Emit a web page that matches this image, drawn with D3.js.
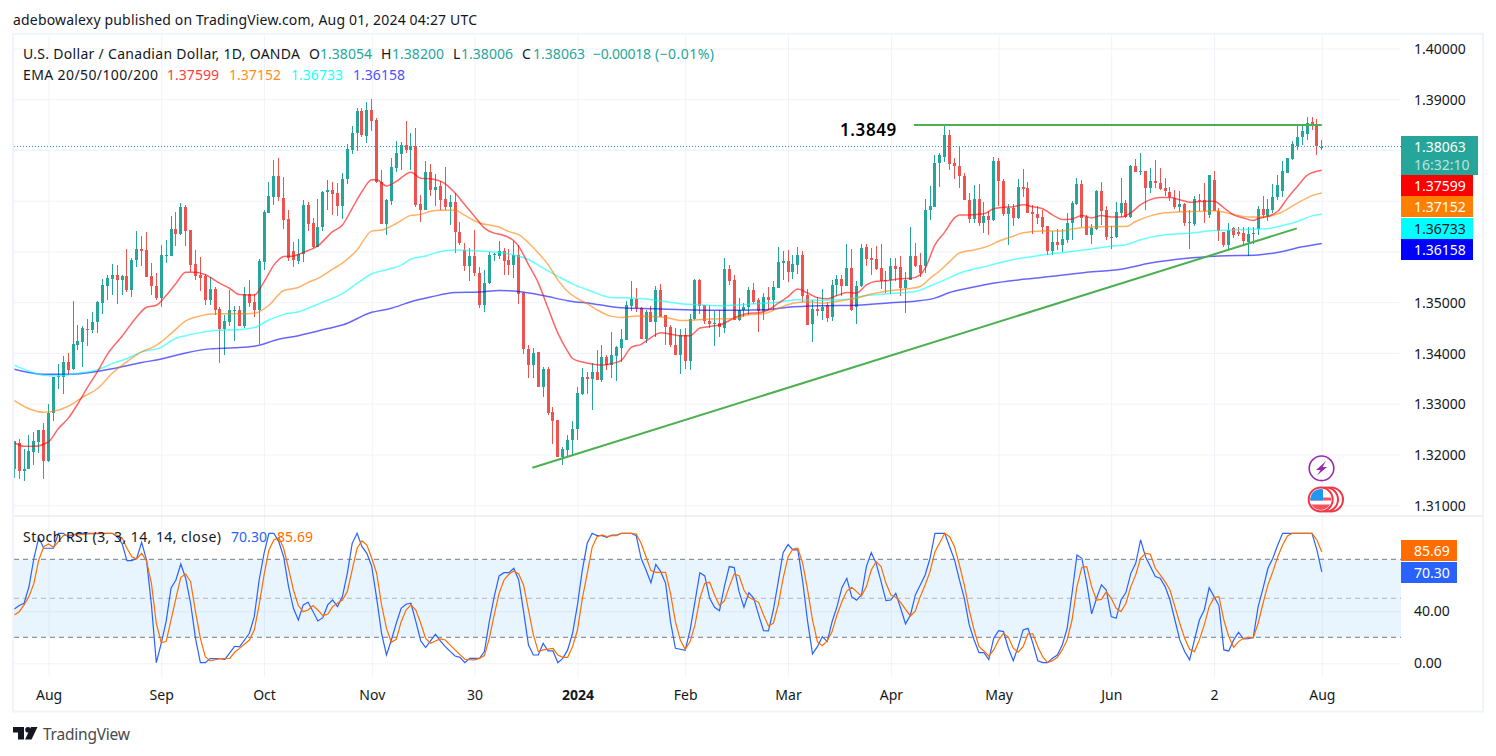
<!DOCTYPE html>
<html>
<head>
<meta charset="utf-8">
<title>USD/CAD</title>
<script src="https://cdn.jsdelivr.net/npm/d3@7"></script>
<style>
body { margin: 0; background: #fff; }
svg { display: block; }
text { font-family: "Noto Sans", sans-serif; fill: #131722; }
</style>
</head>
<body>
<div id="chart"></div>
<script>
// daily candles, [open, high, low, close]
var candles = [
[1.3171,1.3226,1.3154,1.3226],[1.3223,1.3230,1.3151,1.3167],[1.3167,1.3210,1.3148,1.3172],[1.3171,1.3238,1.3171,1.3206],
[1.3205,1.3244,1.3179,1.3226],[1.3224,1.3249,1.3203,1.3249],[1.3249,1.3261,1.3151,1.3188],[1.3188,1.3300,1.3185,1.3281],
[1.3281,1.3352,1.3266,1.3352],[1.3353,1.3378,1.3329,1.3354],[1.3353,1.3394,1.3320,1.3382],[1.3382,1.3399,1.3356,1.3367],
[1.3368,1.3502,1.3366,1.3417],[1.3416,1.3455,1.3406,1.3423],[1.3421,1.3453,1.3373,1.3449],[1.3448,1.3467,1.3414,1.3445],
[1.3445,1.3481,1.3440,1.3461],[1.3460,1.3502,1.3440,1.3501],[1.3499,1.3546,1.3477,1.3534],[1.3532,1.3554,1.3504,1.3548],
[1.3546,1.3575,1.3514,1.3554],[1.3554,1.3573,1.3496,1.3544],[1.3544,1.3554,1.3514,1.3552],[1.3552,1.3604,1.3521,1.3524],
[1.3524,1.3588,1.3511,1.3583],[1.3583,1.3640,1.3570,1.3605],[1.3605,1.3631,1.3572,1.3600],[1.3602,1.3638,1.3550,1.3550],
[1.3552,1.3577,1.3514,1.3531],[1.3532,1.3558,1.3504,1.3508],[1.3508,1.3613,1.3491,1.3593],[1.3592,1.3623,1.3578,1.3593],
[1.3591,1.3669,1.3590,1.3644],[1.3644,1.3677,1.3610,1.3635],[1.3635,1.3695,1.3633,1.3687],[1.3687,1.3691,1.3610,1.3641],
[1.3642,1.3642,1.3560,1.3573],[1.3575,1.3603,1.3544,1.3552],[1.3554,1.3589,1.3523,1.3548],[1.3552,1.3556,1.3494,1.3504],
[1.3504,1.3550,1.3494,1.3526],[1.3526,1.3529,1.3475,1.3485],[1.3486,1.3491,1.3381,1.3447],[1.3447,1.3475,1.3396,1.3463],
[1.3461,1.3524,1.3453,1.3485],[1.3483,1.3492,1.3424,1.3485],[1.3485,1.3492,1.3453,1.3453],[1.3453,1.3529,1.3449,1.3517],
[1.3517,1.3544,1.3491,1.3498],[1.3501,1.3517,1.3471,1.3485],[1.3485,1.3585,1.3417,1.3581],[1.3580,1.3682,1.3564,1.3677],
[1.3676,1.3737,1.3675,1.3710],[1.3708,1.3781,1.3692,1.3749],[1.3749,1.3785,1.3700,1.3707],[1.3705,1.3747,1.3645,1.3661],
[1.3663,1.3681,1.3582,1.3587],[1.3600,1.3619,1.3570,1.3583],[1.3582,1.3625,1.3575,1.3595],[1.3594,1.3702,1.3580,1.3692],
[1.3692,1.3697,1.3640,1.3655],[1.3656,1.3666,1.3607,1.3609],[1.3609,1.3703,1.3609,1.3648],[1.3648,1.3720,1.3640,1.3717],
[1.3717,1.3740,1.3681,1.3722],[1.3722,1.3736,1.3671,1.3714],[1.3715,1.3735,1.3669,1.3690],[1.3690,1.3755,1.3663,1.3743],
[1.3742,1.3812,1.3732,1.3801],[1.3800,1.3847,1.3791,1.3834],[1.3834,1.3883,1.3798,1.3877],[1.3876,1.3882,1.3826,1.3829],
[1.3827,1.3894,1.3814,1.3878],[1.3878,1.3901,1.3837,1.3856],[1.3859,1.3862,1.3735,1.3737],[1.3737,1.3761,1.3655,1.3655],
[1.3655,1.3704,1.3632,1.3701],[1.3699,1.3784,1.3692,1.3767],[1.3765,1.3817,1.3756,1.3793],[1.3791,1.3815,1.3760,1.3810],
[1.3810,1.3857,1.3794,1.3800],[1.3800,1.3834,1.3761,1.3807],[1.3807,1.3844,1.3688,1.3692],[1.3694,1.3712,1.3657,1.3682],
[1.3682,1.3779,1.3681,1.3757],[1.3757,1.3773,1.3710,1.3721],[1.3721,1.3752,1.3690,1.3727],[1.3728,1.3738,1.3682,1.3702],
[1.3704,1.3767,1.3682,1.3688],[1.3687,1.3712,1.3653,1.3698],[1.3698,1.3715,1.3596,1.3638],[1.3638,1.3658,1.3613,1.3617],
[1.3603,1.3616,1.3562,1.3571],[1.3571,1.3606,1.3542,1.3591],[1.3591,1.3642,1.3551,1.3558],[1.3558,1.3569,1.3489,1.3494],
[1.3494,1.3564,1.3481,1.3537],[1.3537,1.3598,1.3536,1.3593],[1.3593,1.3597,1.3582,1.3594],[1.3591,1.3621,1.3585,1.3601],
[1.3601,1.3607,1.3553,1.3582],[1.3584,1.3605,1.3553,1.3574],[1.3574,1.3620,1.3547,1.3592],[1.3592,1.3613,1.3497,1.3516],
[1.3518,1.3521,1.3397,1.3407],[1.3407,1.3415,1.3351,1.3377],[1.3377,1.3409,1.3351,1.3399],[1.3401,1.3402,1.3332,1.3332],
[1.3332,1.3373,1.3314,1.3368],[1.3368,1.3373,1.3278,1.3282],[1.3284,1.3294,1.3220,1.3266],[1.3268,1.3268,1.3195,1.3195],
[1.3195,1.3215,1.3179,1.3210],[1.3209,1.3238,1.3195,1.3229],[1.3229,1.3266,1.3197,1.3251],[1.3250,1.3333,1.3229,1.3322],
[1.3320,1.3370,1.3317,1.3352],[1.3352,1.3363,1.3320,1.3349],[1.3349,1.3380,1.3287,1.3362],[1.3362,1.3406,1.3347,1.3347],
[1.3347,1.3416,1.3342,1.3392],[1.3392,1.3396,1.3366,1.3376],[1.3376,1.3442,1.3350,1.3396],[1.3394,1.3414,1.3345,1.3411],
[1.3409,1.3447,1.3382,1.3428],[1.3426,1.3503,1.3426,1.3495],[1.3493,1.3542,1.3482,1.3507],[1.3507,1.3528,1.3480,1.3488],
[1.3489,1.3491,1.3428,1.3428],[1.3428,1.3485,1.3419,1.3481],[1.3481,1.3493,1.3460,1.3461],[1.3461,1.3531,1.3432,1.3524],
[1.3524,1.3535,1.3470,1.3470],[1.3475,1.3475,1.3416,1.3451],[1.3452,1.3455,1.3411,1.3415],[1.3416,1.3449,1.3396,1.3396],
[1.3396,1.3447,1.3358,1.3435],[1.3435,1.3449,1.3368,1.3385],[1.3385,1.3476,1.3366,1.3466],[1.3466,1.3546,1.3464,1.3544],
[1.3544,1.3545,1.3477,1.3493],[1.3495,1.3495,1.3457,1.3462],[1.3463,1.3495,1.3449,1.3457],[1.3457,1.3483,1.3414,1.3459],
[1.3459,1.3485,1.3432,1.3451],[1.3449,1.3587,1.3440,1.3565],[1.3565,1.3574,1.3533,1.3542],[1.3544,1.3554,1.3464,1.3464],
[1.3464,1.3508,1.3462,1.3485],[1.3484,1.3498,1.3470,1.3490],[1.3491,1.3530,1.3475,1.3524],[1.3524,1.3537,1.3497,1.3501],
[1.3505,1.3508,1.3442,1.3482],[1.3482,1.3518,1.3464,1.3510],[1.3510,1.3530,1.3485,1.3505],[1.3505,1.3541,1.3485,1.3530],
[1.3528,1.3608,1.3527,1.3580],[1.3578,1.3600,1.3543,1.3581],[1.3581,1.3603,1.3539,1.3560],[1.3560,1.3593,1.3546,1.3575],
[1.3574,1.3608,1.3556,1.3593],[1.3593,1.3601,1.3500,1.3513],[1.3514,1.3525,1.3455,1.3456],[1.3457,1.3505,1.3422,1.3486],
[1.3486,1.3511,1.3472,1.3483],[1.3483,1.3525,1.3465,1.3491],[1.3495,1.3501,1.3460,1.3469],[1.3470,1.3543,1.3462,1.3534],
[1.3533,1.3554,1.3513,1.3546],[1.3546,1.3553,1.3513,1.3532],[1.3532,1.3615,1.3531,1.3567],[1.3567,1.3604,1.3483,1.3485],
[1.3491,1.3541,1.3457,1.3532],[1.3531,1.3615,1.3529,1.3607],[1.3608,1.3615,1.3572,1.3585],[1.3587,1.3607,1.3554,1.3584],
[1.3585,1.3610,1.3564,1.3566],[1.3567,1.3615,1.3526,1.3541],[1.3541,1.3562,1.3518,1.3544],[1.3543,1.3587,1.3517,1.3572],
[1.3572,1.3587,1.3541,1.3566],[1.3569,1.3590,1.3513,1.3528],[1.3527,1.3559,1.3479,1.3544],[1.3543,1.3648,1.3543,1.3591],
[1.3591,1.3616,1.3569,1.3572],[1.3574,1.3597,1.3549,1.3557],[1.3571,1.3703,1.3557,1.3682],[1.3681,1.3728,1.3662,1.3690],
[1.3688,1.3789,1.3687,1.3774],[1.3774,1.3794,1.3726,1.3789],[1.3787,1.3850,1.3776,1.3830],[1.3830,1.3840,1.3761,1.3773],
[1.3774,1.3784,1.3743,1.3768],[1.3769,1.3807,1.3724,1.3748],[1.3749,1.3755,1.3701,1.3701],[1.3702,1.3715,1.3656,1.3663],
[1.3663,1.3730,1.3656,1.3704],[1.3704,1.3732,1.3650,1.3656],[1.3656,1.3697,1.3637,1.3670],[1.3670,1.3679,1.3633,1.3661],
[1.3661,1.3787,1.3660,1.3779],[1.3779,1.3784,1.3690,1.3738],[1.3739,1.3743,1.3670,1.3674],[1.3674,1.3693,1.3612,1.3686],
[1.3686,1.3693,1.3650,1.3665],[1.3665,1.3743,1.3663,1.3727],[1.3727,1.3763,1.3707,1.3723],[1.3725,1.3736,1.3676,1.3676],
[1.3678,1.3692,1.3634,1.3673],[1.3674,1.3689,1.3654,1.3666],[1.3668,1.3682,1.3634,1.3649],[1.3651,1.3651,1.3592,1.3601],
[1.3601,1.3641,1.3592,1.3619],[1.3619,1.3644,1.3602,1.3612],[1.3612,1.3644,1.3598,1.3624],[1.3623,1.3676,1.3617,1.3656],
[1.3656,1.3700,1.3623,1.3695],[1.3694,1.3745,1.3692,1.3732],[1.3732,1.3740,1.3648,1.3666],[1.3668,1.3672,1.3632,1.3633],
[1.3633,1.3654,1.3615,1.3646],[1.3645,1.3722,1.3643,1.3720],[1.3720,1.3736,1.3653,1.3680],[1.3682,1.3689,1.3622,1.3628],
[1.3628,1.3651,1.3605,1.3629],[1.3629,1.3697,1.3627,1.3678],[1.3676,1.3744,1.3668,1.3695],[1.3695,1.3702,1.3666,1.3668],
[1.3668,1.3771,1.3665,1.3768],[1.3768,1.3783,1.3756,1.3757],[1.3758,1.3793,1.3750,1.3759],[1.3759,1.3759,1.3682,1.3724],
[1.3724,1.3765,1.3715,1.3739],[1.3739,1.3781,1.3725,1.3734],[1.3735,1.3765,1.3722,1.3723],[1.3725,1.3745,1.3709,1.3719],
[1.3717,1.3726,1.3699,1.3707],[1.3705,1.3722,1.3684,1.3688],[1.3687,1.3720,1.3677,1.3694],[1.3694,1.3696,1.3651,1.3656],
[1.3657,1.3682,1.3605,1.3658],[1.3655,1.3710,1.3651,1.3704],[1.3702,1.3714,1.3680,1.3699],[1.3702,1.3735,1.3656,1.3679],
[1.3672,1.3750,1.3666,1.3750],[1.3740,1.3758,1.3679,1.3679],[1.3680,1.3686,1.3620,1.3640],[1.3638,1.3638,1.3609,1.3613],
[1.3613,1.3656,1.3605,1.3643],[1.3647,1.3649,1.3626,1.3633],[1.3639,1.3648,1.3630,1.3635],[1.3636,1.3648,1.3610,1.3620],
[1.3619,1.3649,1.3590,1.3634],[1.3634,1.3648,1.3615,1.3637],[1.3645,1.3690,1.3633,1.3684],[1.3684,1.3710,1.3666,1.3672],
[1.3669,1.3703,1.3659,1.3684],[1.3682,1.3732,1.3675,1.3707],[1.3707,1.3751,1.3702,1.3730],[1.3719,1.3778,1.3707,1.3759],
[1.3755,1.3785,1.3755,1.3784],[1.3783,1.3818,1.3781,1.3811],[1.3807,1.3849,1.3799,1.3826],[1.3826,1.3849,1.3809,1.3838],
[1.3832,1.3865,1.3819,1.3853],[1.3855,1.3865,1.3840,1.3850],[1.3851,1.3860,1.3790,1.3807],[1.38054,1.38200,1.38006,1.38063]
];

// moving averages, [bar number, value], one reading every few bars
var ema20 = [[1,1.3223],[3,1.3216],[5,1.3216],[8,1.3225],[10,1.3251],[12,1.3271],[14,1.33],[16,1.3333],[18,1.3363],[20,1.3397],[23,1.3433],[26,1.3471],[28,1.349],[30,1.3494],[32,1.3513],[34,1.3537],[36,1.3559],[38,1.3559],[40,1.3554],[43,1.3537],[45,1.3527],[47,1.3515],[50,1.3514],[52,1.354],[54,1.3573],[56,1.359],[58,1.3591],[60,1.3598],[63,1.3611],[66,1.3639],[68,1.3652],[70,1.3685],[72,1.3718],[74,1.3741],[75,1.3741],[77,1.3729],[79,1.3738],[82,1.3756],[84,1.3744],[86,1.3743],[89,1.3733],[91,1.3715],[93,1.3692],[95,1.3669],[97,1.3646],[99,1.3636],[100,1.3634],[103,1.3621],[104,1.361],[106,1.3574],[108,1.3538],[110,1.3488],[112,1.3439],[114,1.3403],[115,1.3389],[117,1.3382],[119,1.3378],[121,1.3376],[123,1.3379],[125,1.3386],[127,1.3411],[129,1.3417],[131,1.343],[133,1.344],[135,1.3437],[137,1.3434],[139,1.3434],[141,1.3449],[143,1.3452],[145,1.3455],[149,1.3473],[151,1.3478],[153,1.3479],[155,1.3485],[157,1.3498],[159,1.3511],[161,1.3526],[163,1.3518],[165,1.3509],[167,1.3507],[169,1.3513],[171,1.3519],[173,1.3518],[175,1.3534],[177,1.3541],[179,1.3542],[182,1.3546],[184,1.3547],[186,1.3554],[187,1.3567],[189,1.3613],[191,1.3638],[193,1.3666],[194,1.3672],[196,1.3672],[199,1.3674],[201,1.3684],[203,1.3687],[205,1.3688],[207,1.3692],[209,1.3688],[211,1.3684],[213,1.3672],[215,1.3663],[217,1.3664],[219,1.3671],[221,1.3666],[223,1.3671],[225,1.3668],[227,1.3668],[229,1.3676],[231,1.3692],[233,1.3702],[235,1.3706],[237,1.3706],[239,1.3702],[241,1.3697],[244,1.3699],[246,1.3699],[248,1.3686],[250,1.3672],[252,1.3666],[254,1.3661],[255,1.3665],[257,1.3669],[259,1.3679],[261,1.3705],[263,1.3728],[265,1.375],[266,1.3755],[268,1.37599]];
var ema50 = [[1,1.3306],[4,1.329],[7,1.3283],[9,1.3285],[12,1.3295],[15,1.3313],[18,1.333],[21,1.336],[24,1.3383],[27,1.3402],[30,1.3415],[33,1.3438],[36,1.3463],[39,1.3473],[42,1.3477],[47,1.3477],[50,1.3478],[53,1.3494],[56,1.3523],[59,1.3529],[61,1.3539],[63,1.3547],[66,1.3565],[68,1.3577],[71,1.3603],[74,1.364],[76,1.3642],[79,1.3655],[82,1.3671],[84,1.3673],[86,1.3679],[88,1.3681],[91,1.3681],[93,1.3671],[96,1.3656],[100,1.3648],[102,1.3639],[104,1.3633],[106,1.3617],[108,1.3597],[110,1.3574],[112,1.3544],[114,1.3521],[116,1.3507],[118,1.3497],[120,1.3485],[123,1.3472],[125,1.347],[128,1.3473],[131,1.3472],[134,1.347],[137,1.3464],[140,1.3465],[143,1.3467],[148,1.3468],[151,1.3475],[154,1.3477],[157,1.3488],[160,1.3498],[163,1.3501],[166,1.3498],[170,1.3503],[173,1.3508],[176,1.3516],[180,1.3523],[184,1.3527],[186,1.3531],[188,1.3547],[190,1.3562],[192,1.358],[194,1.3597],[197,1.3603],[200,1.3611],[202,1.362],[205,1.363],[207,1.3637],[211,1.364],[215,1.364],[217,1.3644],[221,1.3648],[225,1.3649],[228,1.3649],[230,1.3659],[233,1.367],[236,1.3676],[239,1.3678],[244,1.3679],[246,1.368],[250,1.3673],[253,1.3668],[257,1.3669],[259,1.3674],[263,1.3695],[266,1.371],[268,1.37152]];
var ema100 = [[1,1.3376],[4,1.3364],[7,1.3356],[10,1.3355],[14,1.336],[18,1.3367],[21,1.3379],[24,1.3389],[27,1.3402],[31,1.3411],[34,1.3429],[36,1.3434],[39,1.344],[42,1.3444],[47,1.3446],[50,1.345],[53,1.3465],[56,1.3476],[59,1.3481],[62,1.3492],[65,1.3504],[68,1.3517],[71,1.3537],[74,1.3556],[77,1.3564],[80,1.3573],[82,1.3585],[85,1.3591],[88,1.36],[91,1.3603],[96,1.3601],[100,1.3598],[103,1.3593],[106,1.3584],[109,1.3567],[112,1.3551],[115,1.3536],[119,1.3521],[123,1.3509],[127,1.3508],[132,1.3504],[137,1.3497],[141,1.3495],[145,1.3493],[151,1.3496],[157,1.35],[161,1.3505],[166,1.3504],[171,1.3506],[175,1.3513],[180,1.3517],[185,1.3521],[188,1.3532],[191,1.3544],[194,1.3557],[200,1.3572],[205,1.3584],[211,1.3593],[216,1.3599],[221,1.3605],[226,1.3611],[228,1.3613],[231,1.3623],[236,1.3633],[241,1.3636],[246,1.3641],[252,1.3643],[257,1.3645],[260,1.3651],[263,1.3659],[266,1.367],[268,1.36733]];
var ema200 = [[1,1.3368],[7,1.3358],[12,1.3358],[16,1.3361],[21,1.3369],[27,1.3381],[31,1.3388],[36,1.34],[41,1.3408],[46,1.341],[50,1.3413],[55,1.3427],[59,1.3434],[65,1.3448],[68,1.3455],[74,1.348],[78,1.3488],[82,1.3501],[86,1.351],[91,1.3519],[96,1.352],[100,1.3523],[104,1.3521],[109,1.3513],[114,1.3503],[119,1.3497],[125,1.3489],[132,1.3487],[138,1.3485],[145,1.3484],[154,1.3485],[159,1.349],[166,1.3493],[173,1.3494],[180,1.3499],[185,1.3502],[189,1.3508],[192,1.3519],[195,1.3526],[200,1.3536],[207,1.3545],[213,1.3551],[220,1.3559],[227,1.3565],[233,1.3577],[240,1.3586],[247,1.3591],[255,1.3593],[260,1.36],[264,1.3609],[268,1.36158]];

// stoch rsi, [bar number, value]
var stochK = [[1,41.8],[2,44.4],[3,46.2],[4,59],[5,80.8],[6,96.7],[7,88.5],[9,88.5],[10,100],[11,100],[12,97.4],[14,100],[21,100],[22,97.4],[23,92.3],[24,79],[25,79],[26,80.8],[27,93.1],[28,79.5],[29,44.9],[30,0.5],[31,15.4],[32,32],[33,57.7],[34,64.1],[35,76.4],[36,65.4],[37,46.2],[38,19.2],[39,0.5],[40,0.5],[41,3.6],[43,3.6],[44,3.1],[46,13.1],[47,12.6],[49,23.1],[50,35.9],[51,64.1],[52,84.6],[53,100],[54,100],[55,93.6],[56,82],[57,59],[58,42.3],[59,33.3],[60,44.9],[61,46.9],[63,32.6],[64,35.1],[65,44.9],[66,48.7],[67,43.6],[68,51.3],[69,69.2],[70,92.3],[71,100],[72,89.7],[73,84.6],[74,74.4],[75,50],[76,23.1],[77,6.4],[78,17.9],[79,30.8],[80,42.3],[81,45.4],[82,46.2],[83,32],[84,17.2],[85,12.1],[86,17.2],[87,22.3],[88,17.2],[89,12.8],[91,5.6],[92,4.6],[93,0.5],[94,3.8],[96,3.8],[97,9],[98,32],[99,51.3],[100,67.2],[101,69.7],[102,69.7],[103,73.1],[104,64.1],[105,39.7],[106,14.1],[107,6.4],[108,6.4],[109,15.4],[110,9.5],[111,9.5],[112,0.5],[113,3.8],[114,10.3],[115,23.1],[116,44.9],[117,71.8],[118,92.3],[119,100],[120,98.2],[121,98.2],[122,96.9],[123,98.7],[124,98.7],[125,100],[127,100],[128,98.2],[129,80.8],[130,71.8],[131,62],[132,76.1],[133,70.5],[134,61.5],[135,32],[136,11.5],[137,10.8],[138,10],[139,25.6],[140,47.4],[141,69.7],[142,67.2],[143,50],[144,43.1],[145,40.5],[146,59],[147,74.4],[148,73.6],[149,55.1],[150,43.1],[151,54.4],[152,50],[153,37.2],[154,25.1],[155,24.9],[156,41],[157,62.8],[158,85.1],[159,91.3],[160,87.2],[161,87.2],[162,62.8],[163,32],[164,7.2],[165,12.8],[166,20.5],[167,16.7],[168,32],[169,43.6],[170,58.2],[171,65.4],[172,51.3],[173,48.5],[174,52.6],[175,74.4],[176,85.1],[177,76.9],[178,62.8],[179,48.2],[180,48.7],[181,53.8],[182,42.3],[183,30.3],[184,37.2],[185,52.6],[186,60.3],[187,67.9],[188,80.8],[189,100],[191,100],[192,89.7],[193,79.5],[194,64.1],[195,50],[196,29.5],[197,17.9],[198,8.2],[199,8.2],[200,2.8],[201,19.2],[202,25.1],[203,24.4],[204,11.6],[205,2],[206,12.8],[207,25.6],[208,26.9],[209,15.4],[210,2],[211,0.5],[212,0.5],[213,3.9],[214,6.4],[215,14.1],[216,26.9],[217,53.9],[218,83.3],[219,80.8],[220,61.5],[221,38],[222,50],[223,60.3],[224,56.4],[225,35.9],[226,34.6],[227,48.7],[228,54.4],[229,69.2],[230,76.9],[231,94.9],[232,82],[233,74.4],[234,66.7],[235,65.4],[236,59],[237,48.7],[238,33.3],[239,18],[240,9],[241,2.6],[242,18],[243,33.3],[244,41],[245,58.2],[246,51.3],[247,44.4],[248,10.3],[249,9.5],[250,18],[251,23.9],[252,18.7],[253,19],[254,19.8],[255,43.6],[256,57.7],[257,73.1],[258,80.8],[259,91],[260,100],[266,100],[267,87.2],[268,70.3]];
var stochD = [[1,37.2],[2,39.7],[3,44.9],[4,51.3],[5,61.5],[6,79.5],[7,89.7],[8,91.8],[9,89.2],[10,93.6],[11,98.2],[12,98.7],[14,98.7],[16,99.5],[21,100],[23,96.7],[24,88.5],[25,82],[26,80.3],[27,84.6],[28,78.7],[29,61.5],[30,30.8],[31,15.9],[32,16.7],[33,33.3],[34,50],[35,66.1],[36,68.7],[37,62.8],[38,39.7],[39,19.2],[40,5.1],[41,1.8],[43,3.6],[45,3.8],[46,8.5],[47,11.5],[49,17.9],[50,25.6],[51,44.9],[52,67.9],[53,87.2],[54,94.9],[55,96.7],[56,88.5],[57,73.1],[58,56.4],[59,44.4],[60,39.7],[61,41],[62,44.4],[63,41],[64,36.7],[65,37.7],[66,43.6],[67,46.2],[68,48.7],[69,55.1],[70,71.8],[71,88.5],[72,94.1],[73,91],[74,80.8],[75,69.2],[76,44.9],[77,26.9],[78,16.2],[79,18.5],[80,32],[81,41],[82,44.9],[83,41],[84,30.8],[85,19.2],[86,15.4],[87,17.2],[88,18.7],[89,17.9],[91,10.3],[93,3.1],[94,2.8],[95,2.6],[96,3.8],[97,5.9],[98,19.2],[99,37.2],[100,53.8],[101,64.1],[102,68.5],[103,71],[104,68.7],[105,60.3],[106,41],[107,21.8],[108,9],[109,10.3],[111,11.5],[112,6.4],[113,4.6],[114,4.6],[115,12.8],[116,25.6],[117,50],[118,69.2],[119,89.2],[120,97.4],[121,98.7],[122,97.4],[123,98.2],[124,98.2],[125,100],[127,100],[128,99.5],[129,92.3],[130,82],[131,71.3],[132,70],[134,70],[135,53.8],[136,32],[137,17.9],[138,10.8],[139,16.7],[140,29.5],[141,50],[142,61.5],[143,62.3],[144,52.6],[145,44.4],[146,48],[147,59],[148,68.7],[149,67.4],[150,56.4],[151,50.8],[153,46.9],[154,37.2],[155,28.7],[156,30.8],[157,44.9],[158,65.4],[159,82],[160,87.9],[161,88.5],[162,76.9],[163,56.4],[164,33.3],[165,16.7],[166,13.6],[167,17.2],[168,24.4],[169,37.2],[170,47.4],[171,55.6],[172,58.5],[173,55.1],[174,51.8],[175,59],[176,71.8],[177,78.2],[178,74.4],[179,61.5],[180,52.6],[181,50.8],[182,46.9],[183,41.5],[184,36.4],[185,40.3],[186,51.3],[187,60.3],[188,70.5],[189,85.9],[191,100],[192,97.4],[193,89.7],[194,75.6],[195,60.3],[196,41],[197,25.6],[198,12.8],[199,9.5],[200,5.6],[201,10.3],[202,17.9],[203,23.1],[204,20],[205,11.6],[206,8.5],[207,12.8],[208,22.6],[209,22.6],[210,12.8],[211,5.1],[212,0.5],[213,2],[214,4.6],[215,10.3],[216,18],[217,33.3],[218,59],[219,73.9],[220,74.4],[221,59],[222,48.7],[223,49.2],[224,55.1],[225,50],[226,42.3],[227,39.8],[228,46.2],[229,59],[230,68],[231,80.8],[232,84.6],[233,83.9],[234,73.1],[235,68],[236,62.8],[237,56.4],[238,43.6],[239,30.8],[240,19.2],[241,10.8],[242,9],[243,18],[244,29.5],[245,43.6],[246,50.5],[247,51.3],[248,33.3],[249,20.5],[250,12.3],[251,16.7],[252,19.2],[253,20],[254,19.5],[255,30.8],[256,46.2],[257,60.3],[258,70.5],[259,82],[260,91],[261,98],[262,100],[266,100],[267,94.9],[268,85.69]];

// time axis labels, [bar number, text]
var timeTicks = [[8,'Aug'],[31,'Sep'],[52,'Oct'],[74,'Nov'],[95,'30'],[116,'2024'],[138,'Feb'],[159,'Mar'],[180,'Apr'],[202,'May'],[225,'Jun'],[246,'2'],[268,'Aug']];

// drawn lines on the chart, bar number can be fractional
var trendLine = [[106.8,1.31737],[262.9,1.36454]];
var topLine = [[184.7,1.3849],[268,1.3849]];
var lastPrice = 1.38063;

var UP = '#26a69a', DOWN = '#ef5350';
var left = 14, right = 1401, paneBottom = 516, stochBottom = 677;

var svg = d3.select('#chart').append('svg').attr('width', 1496).attr('height', 756);

var x = d3.scaleLinear().domain([1, 268]).range([14.3, 1321.8]);
var y = d3.scaleLinear().domain([1.31, 1.40]).range([505.2, 48.4]);
var ys = d3.scaleLinear().domain([0, 100]).range([663.3, 533.3]);

svg.append('clipPath').attr('id', 'top').append('rect').attr('x', left).attr('y', 35).attr('width', right - left).attr('height', paneBottom - 35);
svg.append('clipPath').attr('id', 'bot').append('rect').attr('x', left).attr('y', paneBottom).attr('width', right - left).attr('height', stochBottom - paneBottom);

// --- grid
var priceTicks = d3.range(1.31, 1.4001, 0.01);
var timeX = timeTicks.map(function (d) { return d[0]; });

function gridStyle(g) {
    g.select('.domain').remove();
    g.selectAll('line').attr('stroke', '#f0f3fa').attr('stroke-width', 1);
    g.selectAll('text').remove();
}
svg.append('g').attr('transform', 'translate(' + left + ',0)')
    .call(d3.axisRight(y).tickValues(priceTicks).tickSize(right - left))
    .call(gridStyle);
svg.append('g').attr('transform', 'translate(' + left + ',0)')
    .call(d3.axisRight(ys).tickValues([0, 40]).tickSize(right - left))
    .call(gridStyle);
svg.append('g').attr('transform', 'translate(0,' + stochBottom + ')')
    .call(d3.axisTop(x).tickValues(timeX).tickSize(stochBottom - 35))
    .call(gridStyle);

// --- candles, snapped to whole pixels so the wicks stay sharp
var main = svg.append('g').attr('clip-path', 'url(#top)');
var bars = main.selectAll('g.bar').data(candles).enter().append('g').attr('class', 'bar').attr('shape-rendering', 'crispEdges');
function barColor(d) { return d[3] >= d[0] ? UP : DOWN; }
function barX(i) { return Math.floor(x(i + 1)) + 0.5; }
bars.append('line')
    .attr('x1', function (d, i) { return barX(i); })
    .attr('x2', function (d, i) { return barX(i); })
    .attr('y1', function (d) { return y(d[1]); })
    .attr('y2', function (d) { return y(d[2]); })
    .attr('stroke', barColor).attr('stroke-width', 1);
bars.append('rect')
    .attr('x', function (d, i) { return barX(i) - 1.5; })
    .attr('width', 3)
    .attr('y', function (d) { return y(Math.max(d[0], d[3])); })
    .attr('height', function (d) { return Math.max(1, Math.abs(y(d[0]) - y(d[3]))); })
    .attr('fill', barColor);

// --- moving averages
var emaLine = d3.line()
    .x(function (d) { return x(d[0]); })
    .y(function (d) { return y(d[1]); })
    .curve(d3.curveMonotoneX);
[[ema200, '#0000ff'], [ema100, '#00ffff'], [ema50, '#ff7f00'], [ema20, '#ff0000']].forEach(function (e) {
    main.append('path').attr('d', emaLine(e[0])).attr('fill', 'none')
        .attr('stroke', e[1]).attr('stroke-opacity', 0.6).attr('stroke-width', 1.5);
});

// --- last price line
main.append('line').attr('x1', left).attr('x2', right).attr('y1', y(lastPrice)).attr('y2', y(lastPrice))
    .attr('shape-rendering', 'crispEdges')
    .attr('stroke', UP).attr('stroke-width', 1).attr('stroke-dasharray', '1 2');

// --- the author's drawings
var drawLine = d3.line().x(function (d) { return x(d[0]); }).y(function (d) { return y(d[1]); });
[trendLine, topLine].forEach(function (l) {
    main.append('path').attr('d', drawLine(l)).attr('fill', 'none').attr('stroke', '#4caf50').attr('stroke-width', 2);
});
svg.append('text').attr('x', 840).attr('y', 135.5).attr('font-size', 17).attr('font-weight', 600)
    .attr('letter-spacing', 0.6).style('fill', '#000').text('1.3849');

// --- event icons
var purple = '#9c27b0';
svg.append('circle').attr('cx', 1321.5).attr('cy', 468.3).attr('r', 12.3).attr('fill', '#fff').attr('stroke', purple).attr('stroke-width', 1.6);
svg.append('path').attr('d', 'M1326 461 L1316 470 L1320.5 470 L1317 475.5 L1327 467 L1322.5 467 Z').attr('fill', purple);
[1331, 1326, 1320.7].forEach(function (cx) {
    svg.append('circle').attr('cx', cx).attr('cy', 499.5).attr('r', 12).attr('fill', '#fff').attr('stroke', '#f23645').attr('stroke-width', 2);
});
svg.append('clipPath').attr('id', 'flag').append('circle').attr('cx', 1320.7).attr('cy', 499.5).attr('r', 10.5);
var flag = svg.append('g').attr('clip-path', 'url(#flag)');
flag.append('rect').attr('x', 1310).attr('y', 497.5).attr('width', 22).attr('height', 3).attr('fill', '#f7525f');
flag.append('rect').attr('x', 1310).attr('y', 504.5).attr('width', 22).attr('height', 6).attr('fill', '#f7525f');
flag.append('rect').attr('x', 1310).attr('y', 489).attr('width', 13).attr('height', 11.5).attr('fill', '#2196f3');

// --- stoch rsi pane
var stoch = svg.append('g').attr('clip-path', 'url(#bot)');
stoch.append('rect').attr('x', left).attr('width', right - left).attr('y', ys(80)).attr('height', ys(20) - ys(80))
    .attr('fill', '#2196f3').attr('fill-opacity', 0.1);
[[80, '#787b86'], [50, '#b2b5be'], [20, '#787b86']].forEach(function (b) {
    stoch.append('line').attr('x1', left).attr('x2', right).attr('y1', ys(b[0])).attr('y2', ys(b[0]))
        .attr('stroke', b[1]).attr('stroke-dasharray', '5 4');
});
var stochLine = d3.line().x(function (d) { return x(d[0]); }).y(function (d) { return ys(d[1]); });
stoch.append('path').attr('d', stochLine(stochK)).attr('fill', 'none').attr('stroke', '#2962ff').attr('stroke-width', 1.2);
stoch.append('path').attr('d', stochLine(stochD)).attr('fill', 'none').attr('stroke', '#ff6d00').attr('stroke-width', 1.2);

// --- axes text
function axisText(g) {
    g.select('.domain').remove();
    g.selectAll('line').remove();
    g.selectAll('text').attr('font-size', 14).attr('font-family', '"Noto Sans", sans-serif').style('fill', '#131722');
}
// 1.38, 1.37 and 1.36 sit under the price tags, so they get no label
var priceLabels = priceTicks.filter(function (p) { return Math.abs(p - 1.38) > 0.001 && Math.abs(p - 1.37) > 0.001 && Math.abs(p - 1.36) > 0.001; });
svg.append('g').attr('transform', 'translate(' + right + ',0.6)')
    .call(d3.axisRight(y).tickValues(priceLabels).tickSize(0).tickPadding(13).tickFormat(d3.format('.5f')))
    .call(axisText);
svg.append('g').attr('transform', 'translate(' + right + ',0)')
    .call(d3.axisRight(ys).tickValues([0, 40]).tickSize(0).tickPadding(13).tickFormat(d3.format('.2f')))
    .call(axisText);
var timeAxis = svg.append('g').attr('transform', 'translate(0,' + stochBottom + ')')
    .call(d3.axisBottom(x).tickValues(timeX).tickSize(0).tickPadding(13).tickFormat(function (v) {
        return timeTicks.filter(function (t) { return t[0] === v; })[0][1];
    }))
    .call(axisText);
timeAxis.selectAll('text').attr('font-weight', function (v) { return v === 116 ? 700 : 400; });

// --- price tags on the right
function tag(top, h, w, fill, label, color) {
    svg.append('rect').attr('x', right).attr('y', top).attr('width', w).attr('height', h).attr('fill', fill);
    if (label) svg.append('text').attr('x', right + 13).attr('y', top + h / 2 + 5).attr('font-size', 14).style('fill', color).text(label);
}
tag(136, 39, 77, UP);
svg.append('text').attr('x', right + 13).attr('y', 151.5).attr('font-size', 14).style('fill', '#fff').text('1.38063');
svg.append('text').attr('x', right + 13).attr('y', 170).attr('font-size', 14).style('fill', '#fff').style('fill-opacity', 0.7).text('16:32:10');
tag(175, 21, 72, '#ff0000', '1.37599', '#fff');
tag(196, 21, 72, '#ff7f00', '1.37152', '#fff');
tag(218, 21, 72, '#00ffff', '1.36733', '#131722');
tag(239, 21, 72, '#0000ff', '1.36158', '#fff');
tag(540, 21, 56, '#ff6d00', '85.69', '#fff');
tag(562, 21, 56, '#2962ff', '70.30', '#fff');

// --- legends, each piece at its own x. width stretches the piece to what the picture shows
function legend(px, py, label, color, width) {
    var t = svg.append('text').attr('x', px).attr('y', py).attr('font-size', 14).style('fill', color).text(label);
    if (width) t.attr('textLength', width);
}
var ink = '#131722';
legend(23, 59, 'U.S. Dollar / Canadian Dollar, 1D, OANDA', ink, 277);
legend(309, 59, 'O', ink);
legend(320, 59, '1.38054', UP, 52);
legend(381, 59, 'H', ink);
legend(392, 59, '1.38200', UP, 52);
legend(453, 59, 'L', ink);
legend(461, 59, '1.38006', UP, 52);
legend(522, 59, 'C', ink);
legend(533, 59, '1.38063', UP, 52);
legend(593, 59, '\u22120.00018', UP, 58);
legend(655, 59, '(\u22120.01%)', UP, 59);
legend(23, 80, 'EMA 20/50/100/200', ink, 135);
legend(167, 80, '1.37599', '#ff3b3b', 52);
legend(229, 80, '1.37152', '#ff8c1a', 52);
legend(291, 80, '1.36733', '#1affff', 52);
legend(353, 80, '1.36158', '#4d4dff', 52);
legend(23, 542, 'Stoch RSI (3, 3, 14, 14, close)', ink, 198);
legend(231, 542, '70.30', '#2962ff', 36);
legend(277, 542, '85.69', '#ff6d00', 36);
legend(13, 25, 'adebowalexy published on TradingView.com, Aug 01, 2024 04:27 UTC', ink, 464);

// --- frame
svg.append('rect').attr('x', 13.2).attr('y', 33.7).attr('width', 1470).attr('height', 677.8)
    .attr('fill', 'none').attr('stroke', '#f0f3fa').attr('stroke-width', 2);
svg.append('line').attr('x1', 14).attr('x2', 1482).attr('y1', paneBottom).attr('y2', paneBottom).attr('stroke', '#e0e3eb').attr('stroke-width', 1);

// --- logo
var logo = svg.append('g').attr('transform', 'translate(13,727)').attr('fill', '#131722');
logo.append('path').attr('d', 'M0 0 H11 V12.5 H5 V5.5 H0 Z');
logo.append('circle').attr('cx', 15).attr('cy', 2.8).attr('r', 2.8);
logo.append('path').attr('d', 'M18 0 H24.5 L18.5 12.5 H12 Z');
svg.append('text').attr('x', 43).attr('y', 739.5).attr('font-size', 15.5).attr('textLength', 87).style('fill', '#4a4a4a').text('TradingView');
</script>
</body>
</html>
